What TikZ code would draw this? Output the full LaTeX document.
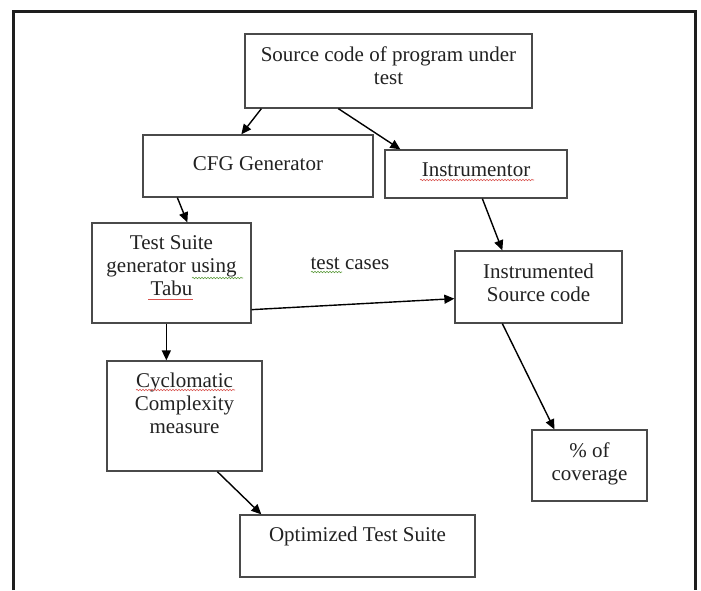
\documentclass[tikz,border=0pt]{standalone}
\usepackage{fontspec}
\setmainfont{Liberation Serif}
\usetikzlibrary{arrows.meta,fit,calc,decorations.pathmorphing}
\definecolor{boxline}{HTML}{4A4A4A}
\definecolor{txtcol}{HTML}{222222}
\definecolor{frame}{HTML}{1E1E1E}
\definecolor{spellred}{HTML}{D9534F}
\definecolor{spellgreen}{HTML}{5A9A3A}
\begin{document}
\begin{tikzpicture}[x=1pt,y=-1pt,
  box/.style={draw=boxline,line width=1.3pt,inner sep=0pt,fill=white},
  txt/.style={anchor=north,inner sep=0pt,align=center,text=txtcol,
    font=\fontsize{21}{23}\selectfont},
  arr/.style={draw=black,line width=1.4pt,-{Triangle[length=10pt,width=9pt]}},
  conn/.style={draw=black,line width=1.4pt},
  squig/.style={decorate,decoration={snake,segment length=3pt,amplitude=0.7pt},line width=0.6pt}]
\useasboundingbox (0,0) rectangle (701,590);
\fill[white] (0,0) rectangle (701,590);
% outer frame
\draw[frame,line width=3pt] (13,590) -- (13,11) -- (695,11) -- (695,590);
% boxes
\node[box,fit={(245,34) (532,108)}] (src) {};
\node[box,fit={(143,135) (373,197)}] (cfg) {};
\node[box,fit={(385,150) (567,198)}] (instr) {};
\node[box,fit={(92,223) (251,323)}] (ts) {};
\node[box,fit={(455,251) (622,323)}] (instd) {};
\node[box,fit={(107,361) (262,471)}] (cyc) {};
\node[box,fit={(532,430) (647,501)}] (cov) {};
\node[box,fit={(240,515) (475,577)}] (opt) {};
% texts
\node[txt] (srct) at ($(src.north)+(0,12)$) {\strut Source code of program under\\test};
\node[txt] (cfgt) at ($(cfg.north)+(0,20)$) {\strut CFG Generator};
\node[txt] (instrt) at ($(instr.north)+(0,11)$) {\strut Instrumentor};
\node[txt] (tst) at ($(ts.north)+(0,11)$) {\strut Test Suite\\generator using\\Tabu};
\node[txt] (instdt) at ($(instd.north)+(0,12)$) {\strut Instrumented\\Source code};
\node[txt] (cyct) at ($(cyc.north)+(0,11)$) {\strut Cyclomatic\\Complexity\\measure};
\node[txt] (covt) at ($(cov.north)+(0,12)$) {\strut \% of\\coverage};
\node[txt] (optt) at ($(opt.north)+(0,11)$) {\strut Optimized Test Suite};
\node[txt] (tc) at (350,253) {\strut test cases};
% spell-check underlines
\draw[squig,spellred] (420,180) -- (534,180);
\draw[squig,spellgreen] (192,278) -- (243,278);
\draw[spellred,line width=0.9pt] (148,299) -- (193,299);
\draw[squig,spellred] (136,390) -- (235,390);
\draw[squig,spellgreen] (311,272) -- (342,272);
% connectors
\draw[arr] ([xshift=17]src.south west) -- ([xshift=99]cfg.north west);
\draw[arr] ([xshift=94]src.south west) -- ([xshift=16]instr.north west);
\draw[arr] ([xshift=35]cfg.south west) -- ([xshift=96]ts.north west);
\draw[arr] ([xshift=98]instr.south west) -- ([xshift=48]instd.north west);
\draw[arr] ([xshift=75]ts.south west) -- ([xshift=60]cyc.north west);
\draw[arr] ([yshift=14]ts.south east) -- ([yshift=25]instd.south west);
\draw[arr] ([xshift=48]instd.south west) -- ([xshift=23]cov.north west);
\draw[arr] ([xshift=111]cyc.south west) -- ([xshift=22]opt.north west);
\end{tikzpicture}
\end{document}
